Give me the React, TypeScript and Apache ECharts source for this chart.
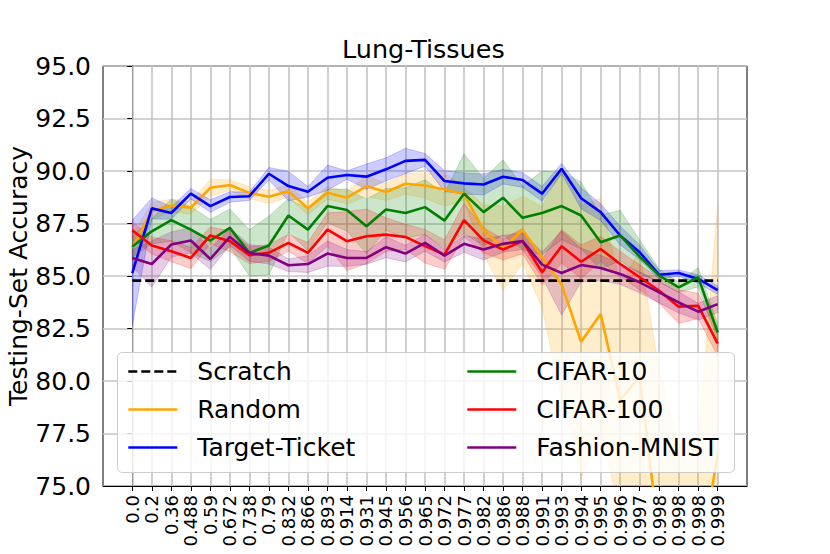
import React, { useEffect, useRef } from "react";
import * as echarts from "echarts";

const xLabels = ["0.0","0.2","0.36","0.488","0.59","0.672","0.738","0.79","0.832","0.866","0.893","0.914","0.931","0.945","0.956","0.965","0.972","0.977","0.982","0.986","0.988","0.991","0.993","0.994","0.995","0.996","0.997","0.998","0.998","0.998","0.999"];

const scratch = [84.78,84.78,84.78,84.78,84.78,84.78,84.78,84.78,84.78,84.78,84.78,84.78,84.78,84.78,84.78,84.78,84.78,84.78,84.78,84.78,84.78,84.78,84.78,84.78,84.78,84.78,84.78,84.78,84.78,84.78,84.78];

const randomMean = [86.34,88.09,88.36,88.25,89.2,89.33,88.96,88.77,89.04,88.22,88.96,88.73,89.28,89.0,89.39,89.31,89.12,88.9,87.19,86.32,87.19,85.9,84.6,81.87,83.19,79.1,80.2,72.5,70.0,71.0,76.5];
const randomStd = [0.6,0.4,0.3,0.3,0.4,0.25,0.3,0.3,0.3,0.3,0.3,0.3,0.5,0.4,0.5,0.6,0.8,0.3,1.2,2.0,1.6,2.4,5.5,6.5,5.5,5.5,6,8,7,6,12];

const targetMean = [85.14,88.22,88.0,88.92,88.33,88.76,88.8,89.87,89.28,89.01,89.68,89.81,89.73,90.08,90.48,90.53,89.52,89.41,89.36,89.73,89.57,88.92,90.11,88.7,88.04,86.93,86.13,85.06,85.14,84.86,84.33];
const targetStd = [2.5,0.5,0.3,0.25,0.3,0.25,0.2,0.3,0.7,0.25,0.6,0.2,0.6,0.55,0.6,0.3,0.5,0.5,0.5,0.35,0.35,0.35,0.25,0.5,0.4,0.45,0.35,0.2,0.15,0.2,0.2];

const cifar10Mean = [86.39,87.13,87.66,87.21,86.69,87.29,86.1,86.45,87.88,87.21,88.33,88.14,87.37,88.17,88.0,88.28,87.64,88.92,88.04,88.73,87.77,88.0,88.33,87.88,86.61,86.93,85.92,85.02,84.46,84.94,82.31];
const cifar10Std = [0.5,0.6,1.0,1.1,1.0,0.9,1.1,1.4,0.8,1.0,0.8,1.0,1.3,1.0,1.2,1.3,1.3,1.9,1.6,1.8,1.5,2.0,1.6,1.6,1.3,1.2,0.8,0.3,0.25,0.45,0.4];

const cifar100Mean = [87.18,86.45,86.18,85.86,86.93,86.66,85.99,86.1,86.58,86.1,87.21,86.66,86.89,86.97,86.86,86.42,86.02,87.66,86.7,86.26,86.66,85.18,86.42,85.68,86.29,85.57,84.94,84.3,83.54,83.58,81.78];
const cifar100Std = [0.4,0.4,0.5,0.5,0.4,0.5,0.4,0.4,0.4,0.5,0.8,1.4,1.3,0.8,0.6,0.8,0.7,0.8,0.6,0.5,0.6,0.6,0.8,0.8,0.6,0.6,0.6,0.6,0.8,0.6,0.6];

const fashionMean = [85.86,85.57,86.5,86.69,85.81,86.86,86.1,85.97,85.51,85.57,86.07,85.86,85.86,86.37,86.07,86.58,85.97,86.53,86.26,86.53,86.66,85.54,85.14,85.52,85.38,85.1,84.7,84.22,83.74,83.3,83.66];
const fashionStd = [0.4,1.1,0.6,0.6,0.5,0.4,0.4,0.4,0.3,0.4,0.6,0.4,0.3,0.5,0.4,0.4,0.3,0.4,0.5,0.4,0.4,0.6,2.0,0.8,0.6,0.5,0.5,0.5,0.5,0.4,0.4];

const FONT = "DejaVu Sans";

function toPairs(vals: number[]) {
  return vals.map((v, i) => [i, v]);
}

function bandSeries(name: string, mean: number[], std: number[], fill: string) {
  return {
    type: "custom",
    name: name + " band",
    silent: true,
    z: 2,
    data: [[0, mean[0]]],
    renderItem: (params: any, api: any) => {
      const upper = mean.map((m, i) => api.coord([i, m + std[i]]));
      const lower = mean.map((m, i) => api.coord([i, m - std[i]])).reverse();
      const cs = params.coordSys;
      return {
        type: "group",
        children: [
          {
            type: "polygon",
            shape: { points: upper.concat(lower) },
            style: { fill, stroke: fill, lineWidth: 1 },
          },
        ],
        clipPath: {
          type: "rect",
          shape: { x: cs.x, y: cs.y, width: cs.width, height: cs.height },
        },
      };
    },
  };
}

function lineSeries(name: string, vals: number[], color: string, extra: any = {}) {
  return {
    type: "line",
    name,
    data: toPairs(vals),
    symbol: "none",
    showSymbol: false,
    z: 3,
    color,
    lineStyle: { color, width: 2.6 },
    ...extra,
  };
}

const legendCommon = {
  orient: "vertical",
  top: 359,
  padding: 0,
  itemWidth: 49,
  itemHeight: 14,
  itemGap: 13,
  selectedMode: false,
  z: 5,
  itemStyle: { color: "transparent", borderColor: "transparent", borderWidth: 0, opacity: 0 },
  lineStyle: { width: 2.6 },
  textStyle: { fontFamily: FONT, fontSize: 25, color: "#000", lineHeight: 24.5, padding: [0, 0, 0, 15] },
};

export default function App() {
  const ref = useRef<HTMLDivElement>(null);
  useEffect(() => {
    if (!ref.current) return;
    const chart = echarts.init(ref.current, undefined, { renderer: "svg" });
    const idx = xLabels.map((_, i) => i);
    const option: any = {
      animation: false,
      backgroundColor: "#ffffff",
      title: {
        text: "Lung-Tissues",
        left: 342,
        top: 36,
        padding: 0,
        textStyle: { fontFamily: FONT, fontSize: 25.5, fontWeight: "normal", color: "#000" },
      },
      grid: {
        left: 103,
        right: 83,
        top: 66,
        bottom: 68,
        outerBoundsMode: "none",
        containLabel: false,
        show: true,
        borderColor: "#000",
        borderWidth: 1,
        backgroundColor: "transparent",
      },
      xAxis: {
        type: "value",
        min: -1.5,
        max: 31.5,
        axisLine: { show: true, lineStyle: { color: "#000", width: 1 } },
        splitLine: { show: false },
        axisTick: { show: true, customValues: idx, length: 5, lineStyle: { color: "#000" } },
        axisLabel: {
          customValues: idx,
          formatter: (v: number) => xLabels[Math.round(v)] ?? "",
          rotate: 90,
          fontSize: 18,
          fontFamily: FONT,
          color: "#000",
          margin: 9,
        },
      },
      yAxis: {
        type: "value",
        min: 75,
        max: 95,
        interval: 2.5,
        name: "Testing-Set Accuracy",
        nameLocation: "middle",
        nameGap: 72,
        nameMoveOverlap: false,
        nameTextStyle: { fontFamily: FONT, fontSize: 25, color: "#000" },
        axisLine: { show: true, lineStyle: { color: "#000", width: 1 } },
        axisTick: { show: true, length: 5, lineStyle: { color: "#000" } },
        axisLabel: {
          formatter: (v: number) => v.toFixed(1),
          fontSize: 25,
          fontFamily: FONT,
          color: "#000",
          margin: 12,
        },
        splitLine: { show: true, lineStyle: { color: "#c4c4c4", width: 1.6 } },
      },
      legend: [
        { ...legendCommon, data: ["Scratch", "Random", "Target-Ticket"], left: 127 },
        { ...legendCommon, data: ["CIFAR-10", "CIFAR-100", "Fashion-MNIST"], left: 466 },
      ],
      graphic: [
        {
          type: "rect",
          left: 117,
          top: 352,
          z: 4,
          silent: true,
          shape: { width: 617, height: 120, r: 5 },
          style: { fill: "rgba(255,255,255,0.8)", stroke: "#cccccc", lineWidth: 1 },
        },
      ],
      series: [
        {
          type: "line",
          name: "grid-x",
          data: [],
          silent: true,
          z: 1,
          markLine: {
            silent: true,
            symbol: ["none", "none"],
            label: { show: false },
            z: 1,
            animation: false,
            lineStyle: { color: "#c4c4c4", width: 1.6, type: "solid" },
            emphasis: { disabled: true },
            data: idx.map((i) => ({ xAxis: i })),
          },
        },
        bandSeries("Random", randomMean, randomStd, "rgba(255,165,0,0.2)"),
        bandSeries("Target-Ticket", targetMean, targetStd, "rgba(0,0,255,0.2)"),
        bandSeries("CIFAR-10", cifar10Mean, cifar10Std, "rgba(0,128,0,0.2)"),
        bandSeries("CIFAR-100", cifar100Mean, cifar100Std, "rgba(255,0,0,0.2)"),
        bandSeries("Fashion-MNIST", fashionMean, fashionStd, "rgba(128,0,128,0.2)"),
        lineSeries("Scratch", scratch, "#000000", {
          lineStyle: { color: "#000000", width: 2.6, type: [9, 4] },
        }),
        lineSeries("Random", randomMean, "#ffa500"),
        lineSeries("Target-Ticket", targetMean, "#0000ff"),
        lineSeries("CIFAR-10", cifar10Mean, "#008000"),
        lineSeries("CIFAR-100", cifar100Mean, "#ff0000"),
        lineSeries("Fashion-MNIST", fashionMean, "#800080"),
      ],
    };
    chart.setOption(option);
    return () => chart.dispose();
  }, []);
  return (
    <div
      ref={ref}
      style={{ position: "fixed", left: 0, top: 0, width: 830, height: 554 }}
    />
  );
}
